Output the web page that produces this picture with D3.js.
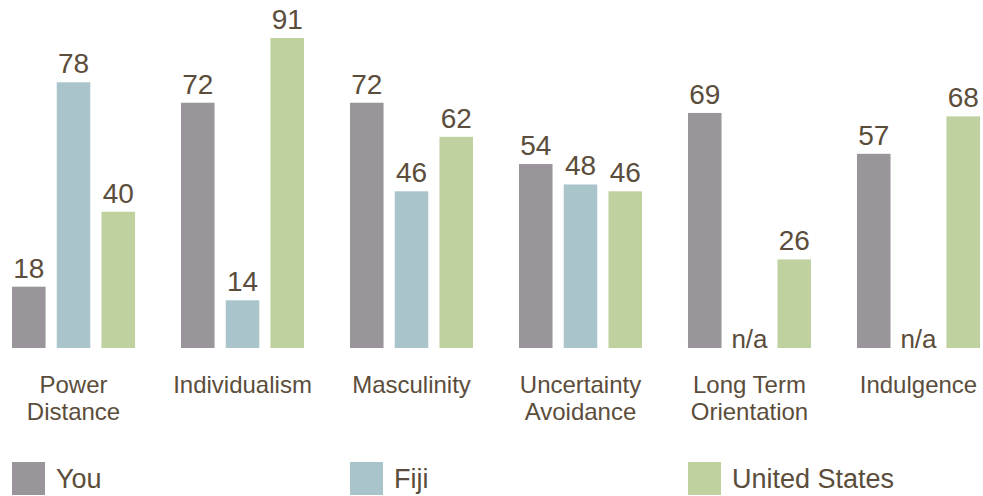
<!DOCTYPE html>
<html>
<head>
<meta charset="utf-8">
<script src="https://cdn.jsdelivr.net/npm/d3@7"></script>
<style>
  body { margin: 0; background: #fff; }
  text { font-family: "Liberation Sans", Arial, sans-serif; fill: #5b4d3b; }
</style>
</head>
<body>
<script>
const categories = [["Power", "Distance"], ["Individualism"], ["Masculinity"], ["Uncertainty", "Avoidance"], ["Long Term", "Orientation"], ["Indulgence"]];
const series = ["You", "Fiji", "United States"];
const colors = ["#9a959b", "#a9c4cb", "#bfd19f"];

const you = [18, 72, 72, 54, 69, 57];
const fiji = [78, 14, 46, 48, null, null];
const us = [40, 91, 62, 46, 26, 68];
const values = [you, fiji, us];

const width = 983, height = 496;
const baseline = 348;

const svg = d3.select('body').append('svg')
  .attr('width', width)
  .attr('height', height);

const x0 = d3.scaleBand()
  .domain(d3.range(categories.length))
  .range([12, 980])
  .paddingInner(0.272)
  .paddingOuter(0);

const x1 = d3.scaleBand()
  .domain(series)
  .range([0, x0.bandwidth()])
  .padding(0.25)
  .paddingOuter(0);

const y = d3.scaleLinear().domain([0, 91]).range([baseline, 38]);

const groups = svg.selectAll('g.group')
  .data(categories)
  .enter()
  .append('g')
  .attr('class', 'group')
  .attr('transform', (d, i) => `translate(${x0(i)},0)`);

groups.each(function (cat, i) {
  const g = d3.select(this);
  series.forEach((s, j) => {
    const v = values[j][i];
    const bx = x1(s);
    const cx = bx + x1.bandwidth() / 2;
    if (v == null) {
      g.append('text')
        .attr('x', cx)
        .attr('y', baseline)
        .attr('text-anchor', 'middle')
        .style('font-size', '26px')
        .text('n/a');
      return;
    }
    g.append('rect')
      .attr('x', bx)
      .attr('y', y(v))
      .attr('width', x1.bandwidth())
      .attr('height', baseline - y(v))
      .attr('fill', colors[j]);
    g.append('text')
      .attr('x', cx)
      .attr('y', y(v) - 9)
      .attr('text-anchor', 'middle')
      .style('font-size', '28px')
      .text(v);
  });

  const lbl = g.append('text')
    .attr('text-anchor', 'middle')
    .style('font-size', '24px');
  cat.forEach((line, k) => {
    lbl.append('tspan')
      .attr('x', x0.bandwidth() / 2)
      .attr('y', 393 + k * 27)
      .text(line);
  });
});

// legend under groups 0, 2, 4
const legend = svg.selectAll('g.legend')
  .data(series)
  .enter()
  .append('g')
  .attr('class', 'legend')
  .attr('transform', (d, i) => `translate(${x0(i * 2)},462)`);

legend.append('rect')
  .attr('width', 33)
  .attr('height', 33)
  .attr('fill', (d, i) => colors[i]);

legend.append('text')
  .attr('x', 44)
  .attr('y', 26)
  .style('font-size', '27px')
  .text(d => d);
</script>
</body>
</html>
